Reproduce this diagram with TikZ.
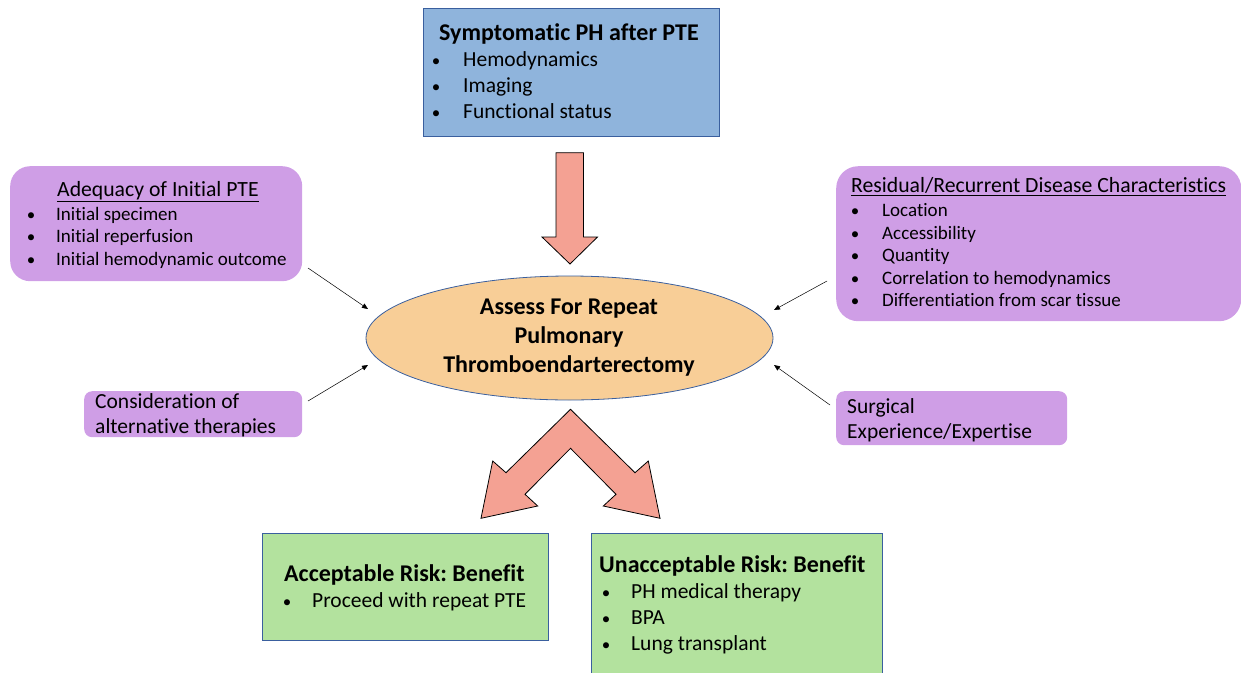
\documentclass[tikz,border=0pt]{standalone}
\usepackage{fontspec}
\setmainfont{Carlito}[Ligatures=NoCommon]
\usetikzlibrary{arrows.meta,shapes.geometric}
\definecolor{boxblue}{HTML}{8FB4DC}
\definecolor{edgeblue}{HTML}{3A5F9E}
\definecolor{lilac}{HTML}{CF9EE6}
\definecolor{peach}{HTML}{F8CE97}
\definecolor{salmon}{HTML}{F4A193}
\definecolor{mint}{HTML}{B3E29E}
\frenchspacing
\tikzset{
  bluebox/.style={draw=edgeblue, line width=0.8pt, fill=boxblue, anchor=north west, inner sep=0pt},
  greenbox/.style={draw=edgeblue, line width=0.8pt, fill=mint, anchor=north west, inner sep=0pt},
  lilacbox/.style={fill=lilac, anchor=north west, inner sep=0pt, rounded corners=#1},
  bigarrow/.style={draw=black, line width=0.8pt, fill=salmon, line join=miter},
  conn/.style={draw=black, line width=0.5pt, -{Triangle[length=6pt,width=5pt]}},
  ttl/.style={inner sep=0pt, anchor=base west, font=\fontsize{24}{29}\selectfont\bfseries\frenchspacing},
  big/.style={inner sep=0pt, anchor=base west, font=\fontsize{21.5}{26}\selectfont\frenchspacing},
  small/.style={inner sep=0pt, anchor=base west, font=\fontsize{19}{22}\selectfont\frenchspacing},
  head/.style={inner sep=0pt, anchor=base west, font=\fontsize{21.7}{26}\selectfont\frenchspacing},
  bul/.style={inner sep=0pt, anchor=base, font=\fontsize{17}{22}\selectfont},
  elltxt/.style={inner sep=0pt, anchor=base, font=\fontsize{24}{29}\selectfont\bfseries},
}
\begin{document}
\begin{tikzpicture}[x=1pt,y=-1pt]
\useasboundingbox (0,0) rectangle (1241,672);

% ---- top blue box
\node[bluebox, minimum width=296pt, minimum height=128pt] (topbox) at (423,8) {};
\node[ttl] (topt) at (439,40.5) {Symptomatic PH after PTE};
\node[bul] (tb1) at (436,66.5) {•};
\node[big] (ti1) at (463,66.5) {Hemodynamics};
\node[bul] (tb2) at (436,92.5) {•};
\node[big] (ti2) at (463,92.5) {Imaging};
\node[bul] (tb3) at (436,118.5) {•};
\node[big] (ti3) at (463,118.5) {Functional status};

% ---- down arrow
\draw[bigarrow] (556,152.7) -- (583.5,152.7) -- (583.5,237) -- (597.5,237) -- (570,264) -- (542,237) -- (556,237) -- cycle;

% ---- left lilac box
\node[lilacbox=20pt, minimum width=292pt, minimum height=115pt] (adq) at (10,166) {};
\node[head] (adqh) at (57,196.5) {\underline{Adequacy of Initial PTE}};
\node[bul] (ab1) at (31,220) {•};
\node[small] (ai1) at (56,220) {Initial specimen};
\node[bul] (ab2) at (31,242.5) {•};
\node[small] (ai2) at (56,242.5) {Initial reperfusion};
\node[bul] (ab3) at (31,265) {•};
\node[small] (ai3) at (56,265) {Initial hemodynamic outcome};

% ---- right lilac box
\node[lilacbox=22pt, minimum width=405pt, minimum height=155pt] (res) at (836,166) {};
\node[head] (resh) at (851,192.5) {\underline{Residual/Recurrent Disease Characteristics}};
\node[bul] (rb1) at (855,216.5) {•};
\node[small] (ri1) at (882,216.5) {Location};
\node[bul] (rb2) at (855,239) {•};
\node[small] (ri2) at (882,239) {Accessibility};
\node[bul] (rb3) at (855,261.5) {•};
\node[small] (ri3) at (882,261.5) {Quantity};
\node[bul] (rb4) at (855,284) {•};
\node[small] (ri4) at (882,284) {Correlation to hemodynamics};
\node[bul] (rb5) at (855,306.5) {•};
\node[small] (ri5) at (882,306.5) {Differentiation from scar tissue};

% ---- small lilac boxes
\node[lilacbox=8pt, minimum width=218pt, minimum height=46pt] (alt) at (84,391) {};
\node[big] (alt1) at (95,408.5) {Consideration of};
\node[big] (alt2) at (95,433.5) {alternative therapies};

\node[lilacbox=8pt, minimum width=231pt, minimum height=54pt] (surg) at (836,391) {};
\node[big] (surg1) at (847,413.5) {Surgical};
\node[big] (surg2) at (847,438.5) {Experience/Expertise};

% ---- central ellipse
\node[ellipse, draw=edgeblue, line width=0.8pt, fill=peach, minimum width=407pt, minimum height=124pt, inner sep=0pt] (ell) at (569.5,338) {};
\node[elltxt] (e1) at (569,314.5) {Assess For Repeat};
\node[elltxt] (e2) at (569,343.5) {Pulmonary};
\node[elltxt] (e3) at (569,372.5) {Thromboendarterectomy};

% ---- thin connectors
\coordinate (s1) at (308,268);
\coordinate (t1) at (368,309);
\coordinate (s2) at (308,401);
\coordinate (t2) at (368,365);
\coordinate (s3) at (827,281);
\coordinate (t3) at (774,310);
\coordinate (s4) at (830,405);
\coordinate (t4) at (774,365);
\draw[conn] (s1) -- (t1);
\draw[conn] (s2) -- (t2);
\draw[conn] (s3) -- (t3);
\draw[conn] (s4) -- (t4);

% ---- split arrow
\draw[bigarrow] (570.5,409.3) -- (635,472.7) -- (648.3,461) -- (660,518.3) -- (603.3,506) -- (616,494.3) -- (570.5,448.3) -- (525,494.3) -- (537.7,506) -- (481,518.3) -- (492.7,461) -- (506,472.7) -- cycle;

% ---- bottom green boxes
\node[greenbox, minimum width=286pt, minimum height=107pt] (acc) at (262,533) {};
\node[ttl] (acct) at (284,581) {Acceptable Risk: Benefit};
\node[bul] (accb) at (287,607) {•};
\node[big] (acci) at (312,607) {Proceed with repeat PTE};

\node[greenbox, minimum width=291pt, minimum height=145pt] (unacc) at (591,533) {};
\node[ttl] (unt) at (599,572) {Unacceptable Risk: Benefit};
\node[bul] (ub1) at (606,598) {•};
\node[big] (ui1) at (631,598) {PH medical therapy};
\node[bul] (ub2) at (606,624) {•};
\node[big] (ui2) at (631,624) {BPA};
\node[bul] (ub3) at (606,650) {•};
\node[big] (ui3) at (631,650) {Lung transplant};
\end{tikzpicture}
\end{document}
